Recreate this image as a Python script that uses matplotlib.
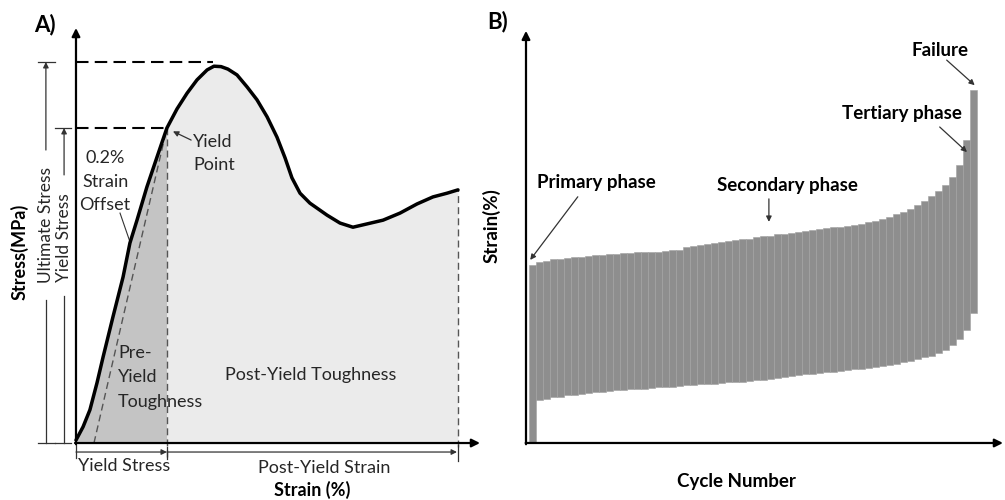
import matplotlib.pyplot as plt
import numpy as np

plt.rcParams['font.family'] = ['Lato', 'DejaVu Sans']

# ---- panel A: schematic stress-strain curve ----
strain = [0.00, 0.35, 0.69, 1.04, 1.34, 1.83, 2.33, 2.67, 3.02, 3.51, 4.01, 4.50,
          5.00, 5.50, 5.99, 6.49, 6.83, 7.18, 7.52, 7.97, 8.47, 8.96, 9.46, 9.95,
          10.35, 10.69, 11.09, 11.58, 12.43, 13.07, 13.71, 14.41, 15.20, 16.04,
          16.88, 17.67, 18.37, 18.91]
stress = [0.7, 3.9, 8.0, 14.5, 20.7, 30.4, 40.0, 48.2, 53.7, 61.7, 68.9, 75.9,
          80.5, 84.3, 87.5, 89.9, 90.8, 90.7, 90.1, 88.7, 85.8, 82.7, 78.6, 73.7,
          68.7, 63.9, 60.2, 57.8, 54.9, 53.0, 52.0, 52.8, 53.7, 55.4,
          57.6, 59.3, 60.2, 61.0]
yield_idx = 11
offset_strain = 0.89
ultimate_stress = 91.8
peak_strain = 6.78

# ---- panel B: strain range per loading cycle ----
cycles = np.arange(1, 65)
strain_max = [42.6, 43.3, 43.5, 44.0, 44.1, 44.3, 44.4, 44.5, 44.7, 44.9, 45.0, 45.1,
              45.2, 45.5, 45.5, 45.6, 45.7, 45.7, 45.8, 45.9, 46.1, 46.2, 46.8, 47.1,
              47.4, 47.6, 47.8, 48.1, 48.3, 48.6, 48.8, 48.9, 49.2, 49.4, 49.6, 49.9,
              50.0, 50.2, 50.5, 50.7, 51.0, 51.2, 51.4, 51.6, 51.7, 51.9, 52.2, 52.4,
              52.9, 53.1, 53.6, 54.1, 54.7, 55.3, 56.0, 56.9, 57.9, 59.1, 60.3, 61.7,
              63.6, 66.5, 72.5, 84.4]
strain_min = [0.0, 10.3, 10.5, 10.9, 11.1, 11.4, 11.5, 11.7, 12.0, 12.1, 12.2, 12.4,
              12.6, 12.7, 12.8, 12.9, 13.0, 13.2, 13.3, 13.4, 13.5, 13.6, 13.8, 13.9,
              14.0, 14.1, 14.2, 14.4, 14.5, 14.6, 14.7, 14.8, 15.0, 15.1, 15.3, 15.6,
              15.8, 16.0, 16.3, 16.5, 16.6, 16.7, 17.0, 17.1, 17.2, 17.5, 17.6, 17.7,
              17.9, 18.2, 18.4, 18.7, 19.0, 19.4, 19.7, 20.1, 20.6, 20.9, 21.5, 22.2,
              23.4, 24.9, 27.0, 31.1]

fig = plt.figure(figsize=(10.05, 5.0), dpi=100)
txt = '#262626'
arrow_k = dict(arrowstyle='-|>', color='k', lw=1.6, mutation_scale=12, shrinkA=0, shrinkB=0)
arrow_thin = dict(arrowstyle='-|>', color='#333333', lw=0.9, mutation_scale=8, shrinkA=0, shrinkB=0)

# ================= A =================
axA = fig.add_axes([0, 0, 490 / 1005, 1])
axA.set_xlim(-3.762, 20.495)
axA.set_ylim(-13.73, 106.75)
axA.axis('off')

axA.fill_between(strain[:yield_idx + 1], stress[:yield_idx + 1], color='#c4c4c4', lw=0)
axA.fill_between(strain[yield_idx:], stress[yield_idx:], color='#ebebeb', lw=0)

ys, yv = strain[yield_idx], stress[yield_idx]
end_s, end_v = strain[-1], stress[-1]

# dashed guides
axA.plot([0, peak_strain], [ultimate_stress, ultimate_stress], color='k', lw=1.5, ls=(0, (6, 3)))
axA.plot([0, ys], [yv, yv], color='k', lw=1.5, ls=(0, (6, 3)))
axA.plot([ys, ys], [-3.4, yv], color='#555555', lw=1, ls=(0, (5, 3)))
axA.plot([end_s, end_s], [-1.0, end_v], color='#555555', lw=1, ls=(0, (5, 3)))
axA.plot([offset_strain, ys], [0, yv], color='#555555', lw=1, ls=(0, (5, 3)))

axA.plot(strain, stress, color='k', lw=2.5, solid_joinstyle='round', solid_capstyle='round', zorder=5)

# axes arrows
axA.annotate('', xy=(0, 100.0), xytext=(0, -0.3), arrowprops=arrow_k)
axA.annotate('', xy=(20.0, 0), xytext=(-0.05, 0), arrowprops=arrow_k)

# left dimension lines
for x, top, g_lo, g_hi, t0, t1 in [(-1.49, ultimate_stress, 34.5, 70.6, -1.90, -1.04),
                                   (-0.59, yv, 35.4, 64.6, -1.04, -0.25)]:
    axA.plot([x, x], [0, g_lo], color='#333333', lw=0.9)
    axA.annotate('', xy=(x, top), xytext=(x, g_hi), arrowprops=arrow_thin)
    axA.plot([t0, t1], [top, top], color='#333333', lw=0.9)
    axA.plot([t0, t1], [0, 0], color='#333333', lw=0.9)
axA.text(-1.49, 52.5, 'Ultimate Stress', rotation=90, ha='center', va='center', fontsize=12.5, color=txt)
axA.text(-0.59, 49.5, 'Yield Stress', rotation=90, ha='center', va='center', fontsize=12.5, color=txt)
axA.text(-2.82, 46.0, 'Stress(MPa)', rotation=90, ha='center', va='center', fontsize=13,
         fontweight='bold', color='k')

# bottom dimension lines
axA.annotate('', xy=(ys, -2.17), xytext=(0, -2.17), arrowprops=arrow_thin)
axA.annotate('', xy=(end_s - 0.05, -2.17), xytext=(ys, -2.17), arrowprops=arrow_thin)
axA.plot([0, 0], [-0.5, -3.6], color='#333333', lw=0.9)
axA.plot([ys, ys], [-1.0, -3.8], color='#333333', lw=0.9)
axA.plot([end_s, end_s], [-0.5, -4.3], color='#333333', lw=0.9)
axA.text(0.1, -5.6, 'Yield Stress', ha='left', va='center', fontsize=13, color=txt)
axA.text(12.28, -6.0, 'Post-Yield Strain', ha='center', va='center', fontsize=13, color=txt)
axA.text(11.68, -11.3, 'Strain (%)', ha='center', va='center', fontsize=13, fontweight='bold', color='k')

# labels inside
axA.text(11.63, 16.4, 'Post-Yield Toughness', ha='center', va='center', fontsize=13, color=txt)
for yy, s in [(21.7, 'Pre-'), (15.9, 'Yield'), (9.9, 'Toughness')]:
    axA.text(2.08, yy, s, ha='left', va='center', fontsize=13, color=txt)
for yy, s in [(68.7, '0.2%'), (62.9, 'Strain'), (57.3, 'Offset')]:
    axA.text(1.44, yy, s, ha='center', va='center', fontsize=13, color=txt)
axA.plot([2.18, 2.67], [55.4, 48.5], color='#333333', lw=0.8)
axA.annotate('', xy=(ys + 0.3, yv - 0.8), xytext=(5.7, 73.0), arrowprops=arrow_thin)
axA.text(5.8, 72.6, 'Yield', ha='left', va='center', fontsize=13, color=txt)
axA.text(5.8, 67.0, 'Point', ha='left', va='center', fontsize=13, color=txt)
axA.text(-1.53, 100.8, 'A)', ha='center', va='center', fontsize=16, fontweight='bold', color='k')

# ================= B =================
axB = fig.add_axes([480 / 1005, 0, 525 / 1005, 1])
axB.set_xlim(-6.571, 68.43)
axB.set_ylim(-13.64, 105.98)
axB.axis('off')

smax = np.array(strain_max)
smin = np.array(strain_min)
axB.bar(cycles, smax - smin, bottom=smin, width=1.0, color='#8e8e8e',
        edgecolor='#a2a2a2', linewidth=0.4)

axB.annotate('', xy=(0, 98.6), xytext=(0, -0.3), arrowprops=arrow_k)
axB.annotate('', xy=(68.14, 0), xytext=(-0.05, 0), arrowprops=arrow_k)

bold = dict(fontsize=13.5, fontweight='bold', color='k', ha='center', va='center')
axB.text(10.0, 62.2, 'Primary phase', **bold)
axB.annotate('', xy=(0.6, 43.8), xytext=(7.4, 58.9), arrowprops=arrow_thin)
axB.text(37.3, 61.7, 'Secondary phase', **bold)
axB.annotate('', xy=(34.7, 52.9), xytext=(34.7, 58.4), arrowprops=arrow_thin)
axB.text(53.7, 78.9, 'Tertiary phase', **bold)
axB.annotate('', xy=(63.0, 69.6), xytext=(59.1, 75.6), arrowprops=arrow_thin)
axB.text(59.1, 93.8, 'Failure', **bold)
axB.annotate('', xy=(64.1, 85.6), xytext=(60.1, 91.6), arrowprops=arrow_thin)

axB.text(-4.86, 51.9, 'Strain(%)', rotation=90, **bold)
axB.text(30.1, -9.3, 'Cycle Number', **bold)
axB.text(-4.1, 100.8, 'B)', ha='center', va='center', fontsize=16, fontweight='bold', color='k')

fig.savefig('out.png', dpi=100)
